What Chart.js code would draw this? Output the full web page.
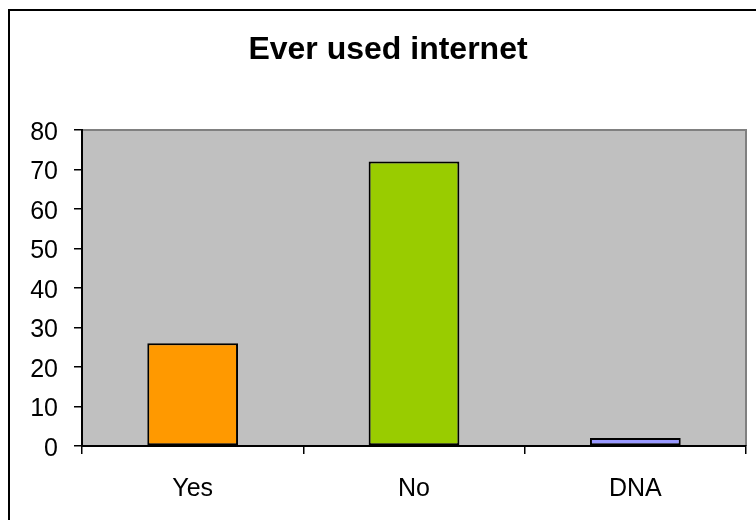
<!DOCTYPE html>
<html>
<head>
<meta charset="utf-8">
<title>Ever used internet</title>
<script src="https://cdn.jsdelivr.net/npm/chart.js@4/dist/chart.umd.min.js"></script>
<style>
  html, body { margin: 0; padding: 0; background: #fff; }
  #wrap { width: 756px; height: 520px; }
</style>
</head>
<body>
<div id="wrap"><canvas id="chart" width="756" height="520"></canvas></div>
<script>
// Datos
const categories = ['Yes', 'No', 'DNA'];
const counts = [26, 72, 2];
const barColors = ['#FF9900', '#99CC00', '#9999FF'];
const yTicks = [0, 10, 20, 30, 40, 50, 60, 70, 80];

const FONT = '"Liberation Sans", Arial, sans-serif';

// Fondo del gráfico, marco exterior y área gris
const plotBackground = {
    id: 'plotBackground',
    beforeDraw(chart) {
        const { ctx, chartArea: a } = chart;
        ctx.save();
        ctx.fillStyle = '#ffffff';
        ctx.fillRect(0, 0, chart.width, chart.height);

        ctx.strokeStyle = '#000000';
        ctx.lineWidth = 2;
        ctx.strokeRect(9, 10, chart.width + 20, chart.height + 20);

        ctx.fillStyle = '#C0C0C0';
        ctx.fillRect(a.left, a.top, a.right - a.left, a.bottom - a.top);

        ctx.strokeStyle = '#808080';
        ctx.lineWidth = 2;
        ctx.beginPath();
        ctx.moveTo(a.left, a.top);
        ctx.lineTo(a.right, a.top);
        ctx.lineTo(a.right, a.bottom);
        ctx.stroke();
        ctx.restore();
    }
};

const config = {
    type: 'bar',
    data: {
        labels: categories,
        datasets: [{
            data: counts,
            backgroundColor: barColors,
            borderColor: '#000000',
            borderWidth: 2,
            borderSkipped: false,
            categoryPercentage: 1.0,
            barPercentage: 0.41
        }]
    },
    options: {
        responsive: false,
        animation: false,
        layout: { padding: { left: 30, right: 10, top: 0, bottom: 0 } },
        plugins: {
            legend: { display: false },
            tooltip: { enabled: false },
            title: {
                display: true,
                text: 'Ever used internet',
                color: '#000000',
                font: { family: FONT, size: 32, weight: 'bold' },
                padding: { top: 31, bottom: 60.5 }
            }
        },
        scales: {
            x: {
                grid: {
                    offset: true,
                    drawOnChartArea: false,
                    drawTicks: true,
                    tickLength: 8,
                    color: '#000000',
                    lineWidth: 1.5
                },
                border: { display: true, color: '#000000', width: 2 },
                ticks: {
                    color: '#000000',
                    font: { family: FONT, size: 25 },
                    padding: 20,
                    maxRotation: 0
                },
                afterFit(scale) { scale.height = 74; }
            },
            y: {
                min: 0,
                max: 80,
                afterBuildTicks(scale) {
                    scale.ticks = yTicks.map(v => ({ value: v }));
                },
                grid: {
                    drawOnChartArea: false,
                    drawTicks: true,
                    tickLength: 8,
                    color: '#000000',
                    lineWidth: 1.5
                },
                border: { display: true, color: '#000000', width: 2 },
                ticks: {
                    color: '#000000',
                    font: { family: FONT, size: 25 },
                    padding: 16,
                    labelOffset: 3
                },
                afterFit(scale) { scale.width = 52; }
            }
        }
    },
    plugins: [plotBackground]
};

new Chart(document.getElementById('chart'), config);
</script>
</body>
</html>
